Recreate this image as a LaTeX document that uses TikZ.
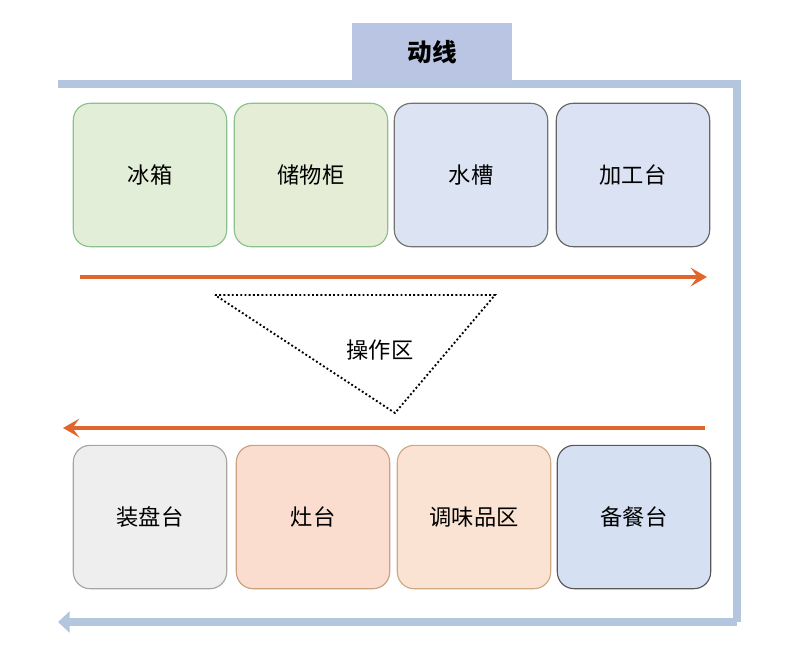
\documentclass[tikz,border=0pt]{standalone}
\usepackage{fontspec}
\setmainfont{Noto Sans CJK SC}
\usetikzlibrary{arrows.meta}
\definecolor{frameBlue}{HTML}{B4C6DD}
\definecolor{tabBlue}{HTML}{B9C5E2}
\definecolor{lineOrange}{HTML}{E0662C}
\begin{document}
\begin{tikzpicture}[x=0.03cm, y=-0.03cm,
  boxStyle/.style={rounded corners=0.5cm, line width=1pt, minimum width=4.6cm, minimum height=4.3cm, font=\fontsize{19}{22}\selectfont},
  flowArrow/.style={lineOrange, line width=3.2pt, -{Stealth[length=14pt, width=16pt, inset=6pt]}}
]
\useasboundingbox (0,0) rectangle (800,662);

\draw [frameBlue, line width=7pt] (58, 84) -- (737, 84) -- (737, 622);
\draw [frameBlue, line width=7pt, -{Triangle[length=10pt, width=18pt]}] (737, 622) -- (58, 622);
\node [fill=tabBlue, minimum width=4.8cm, minimum height=1.75cm, font=\fontsize{21}{24}\selectfont\bfseries] (tab) at (432, 52) {动线};

\node [boxStyle, draw=green!45!black!45, fill={rgb,255:red,227;green,238;blue,217}] (fridge) at (150, 175) {冰箱};
\node [boxStyle, draw=green!45!black!45, fill={rgb,255:red,230;green,237;blue,215}] (cabinet) at (311, 175) {储物柜};
\node [boxStyle, draw=black!55, fill={rgb,255:red,220;green,227;blue,243}] (sink) at (471, 175) {水槽};
\node [boxStyle, draw=black!60, fill={rgb,255:red,219;green,226;blue,243}] (prep) at (633, 175) {加工台};

\node [boxStyle, draw=black!35, fill={rgb,255:red,238;green,238;blue,238}] (plating) at (150, 517) {装盘台};
\node [boxStyle, draw={rgb,255:red,201;green,160;blue,128}, fill={rgb,255:red,251;green,221;blue,208}] (stove) at (313, 517) {灶台};
\node [boxStyle, draw={rgb,255:red,205;green,170;blue,130}, fill={rgb,255:red,251;green,227;blue,211}] (spice) at (474, 517) {调味品区};
\node [boxStyle, draw=black!65, fill={rgb,255:red,214;green,224;blue,243}] (serving) at (634, 517) {备餐台};

\coordinate (topL) at (80, 277);
\coordinate (topR) at (707, 277);
\coordinate (botR) at (705, 428);
\coordinate (botL) at (63, 428);
\draw [flowArrow] (topL) -- (topR);
\draw [flowArrow] (botR) -- (botL);

\draw [dotted, line width=1.6pt] (215, 295) -- (495, 295) -- (395, 413) -- cycle;
\node [font=\fontsize{19}{22}\selectfont] (work) at (380, 350) {操作区};
\end{tikzpicture}
\end{document}
